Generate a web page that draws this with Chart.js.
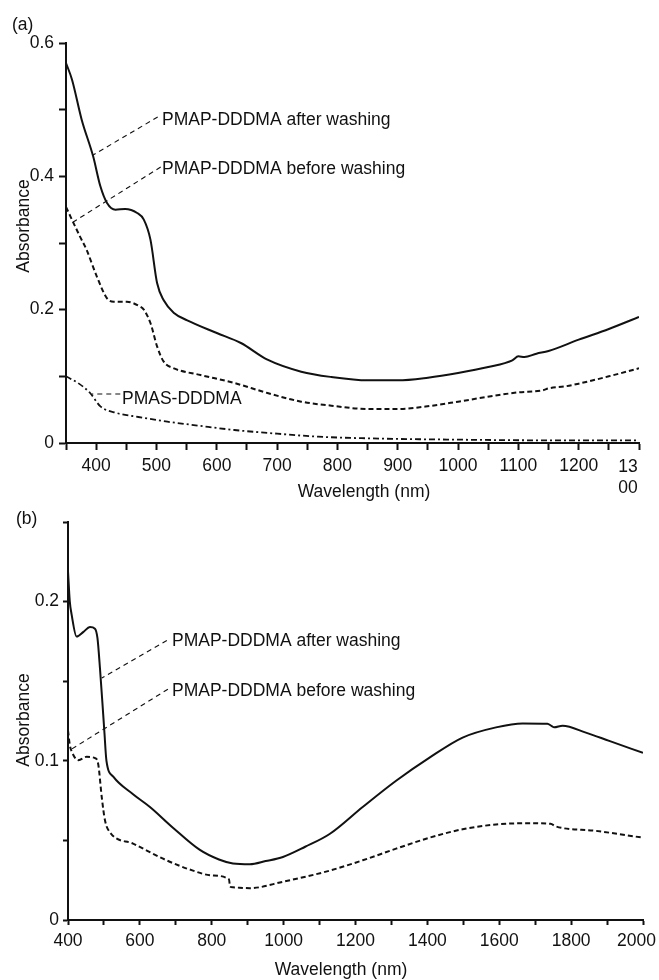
<!DOCTYPE html>
<html lang="en">
<head>
<meta charset="UTF-8">
<title>Absorbance spectra</title>
<style>
  body { margin: 0; background: #fff; }
  .panel { position: absolute; left: 0; }
  #panelA { top: 0; }
  #panelB { top: 500px; }
</style>
</head>
<body>
<div class="panel" id="panelA"><canvas id="chartA" width="659" height="510"></canvas></div>
<div class="panel" id="panelB"><canvas id="chartB" width="659" height="480"></canvas></div>

<script src="https://cdn.jsdelivr.net/npm/chart.js"></script>
<script>
// (a) PMAP-DDDMA after washing
const wlA_after  = [350, 360, 376, 395, 407, 418, 432, 448, 468, 479, 490, 501, 512, 529, 551, 600, 640, 684, 740, 790, 850, 900, 950, 1000, 1050, 1090, 1100, 1110, 1130, 1150, 1200, 1250, 1300];
const absA_after = [0.57, 0.545, 0.485, 0.43, 0.385, 0.36, 0.35, 0.351, 0.345, 0.335, 0.305, 0.24, 0.214, 0.195, 0.184, 0.165, 0.15, 0.125, 0.107, 0.099, 0.094, 0.094, 0.098, 0.105, 0.114, 0.124, 0.13, 0.129, 0.134, 0.138, 0.155, 0.171, 0.189];

// (a) PMAP-DDDMA before washing
const wlA_before  = [350, 373, 384, 401, 418, 429, 451, 470, 479, 490, 501, 512, 529, 573, 629, 684, 740, 790, 850, 900, 957, 1000, 1068, 1100, 1140, 1150, 1178, 1200, 1250, 1300];
const absA_before = [0.354, 0.31, 0.29, 0.25, 0.217, 0.212, 0.212, 0.206, 0.2, 0.18, 0.145, 0.122, 0.112, 0.102, 0.09, 0.075, 0.062, 0.056, 0.051, 0.051, 0.056, 0.062, 0.072, 0.076, 0.079, 0.082, 0.085, 0.089, 0.1, 0.112];

// (a) PMAS-DDDMA
const wlA_pmas  = [350, 370, 390, 407, 434, 470, 518, 570, 629, 700, 768, 850, 1000, 1150, 1300];
const absA_pmas = [0.1, 0.09, 0.075, 0.055, 0.045, 0.039, 0.032, 0.026, 0.0195, 0.014, 0.0095, 0.007, 0.005, 0.004, 0.004];

// (b) PMAP-DDDMA after washing
const wlB_after  = [400, 405, 410, 424, 443, 461, 475, 482, 489, 498, 501, 507, 526, 581, 628, 692, 767, 820, 859, 906, 950, 998, 1060, 1128, 1220, 1313, 1406, 1498, 1591, 1665, 1734, 1745, 1753, 1776, 1841, 1906, 2000];
const absB_after = [0.219, 0.2, 0.192, 0.178, 0.181, 0.184, 0.183, 0.177, 0.158, 0.129, 0.119, 0.1, 0.09, 0.079, 0.071, 0.058, 0.044, 0.038, 0.0355, 0.035, 0.037, 0.0396, 0.046, 0.054, 0.071, 0.0875, 0.102, 0.1146, 0.121, 0.1235, 0.1233, 0.122, 0.121, 0.122, 0.1177, 0.1125, 0.105];

// (b) PMAP-DDDMA before washing
const wlB_before  = [400, 405, 410, 429, 452, 475, 484, 494, 503, 517, 581, 674, 748, 800, 848, 851, 859, 906, 998, 1128, 1220, 1313, 1406, 1498, 1591, 1683, 1743, 1757, 1869, 2000];
const absB_before = [0.119, 0.11, 0.106, 0.1004, 0.1025, 0.1017, 0.098, 0.077, 0.0625, 0.055, 0.048, 0.0375, 0.031, 0.028, 0.0255, 0.021, 0.0205, 0.02, 0.024, 0.031, 0.0375, 0.0448, 0.0517, 0.057, 0.06, 0.0608, 0.0604, 0.0588, 0.056, 0.0517];

// tick labels
const xLabelsA = [400, 500, 600, 700, 800, 900, 1000, 1100, 1200];
const yLabelsA = [0, 0.2, 0.4, 0.6];
const xLabelsB = [400, 600, 800, 1000, 1200, 1400, 1600, 1800];
const yLabelsB = [0, 0.1, 0.2];

const FONT = '"Liberation Sans", Arial, sans-serif';
const INK = '#111';

const pts = (xs, ys) => xs.map((x, i) => ({ x: x, y: ys[i] }));
const near = (list, v) => list.some(t => Math.abs(t - v) < 1e-6);

// panel letters, axis titles, leader lines and curve labels
const notesPlugin = {
  id: 'notes',
  afterDraw(chart, args, o) {
    const ctx = chart.ctx, xs = chart.scales.x, ys = chart.scales.y;
    ctx.save();
    ctx.fillStyle = INK;
    ctx.font = '17.5px ' + FONT;
    ctx.textBaseline = 'middle';

    ctx.textAlign = 'left';
    ctx.fillText(o.panel, o.panelPos[0], o.panelPos[1]);

    ctx.textAlign = 'center';
    ctx.fillText('Wavelength (nm)', o.xTitlePos[0], o.xTitlePos[1]);

    ctx.save();
    ctx.translate(o.yTitlePos[0], o.yTitlePos[1]);
    ctx.rotate(-Math.PI / 2);
    ctx.fillText('Absorbance', 0, 0);
    ctx.restore();

    // last x tick label sits pulled in from the right edge
    const lx = xs.getPixelForValue(o.lastTick.value) + o.lastTick.shift;
    o.lastTick.lines.forEach((t, i) => ctx.fillText(t, lx, o.lastTick.y + i * 21));

    ctx.strokeStyle = INK;
    ctx.lineWidth = 1.1;
    ctx.setLineDash([5, 4]);
    ctx.textAlign = 'left';
    o.items.forEach(n => {
      ctx.beginPath();
      ctx.moveTo(xs.getPixelForValue(n.from[0]), ys.getPixelForValue(n.from[1]));
      ctx.lineTo(xs.getPixelForValue(n.to[0]), ys.getPixelForValue(n.to[1]));
      ctx.stroke();
      ctx.fillText(n.text, n.at[0], n.at[1]);
    });
    ctx.restore();
  }
};

function axis(c) {
  return {
    type: 'linear',
    min: c.min,
    max: c.max,
    afterFit(s) {
      if (c.width) s.width = c.width;
      if (c.height) s.height = c.height;
      s.paddingLeft = 0; s.paddingRight = 0; s.paddingTop = 0; s.paddingBottom = 0;
    },
    border: { display: true, color: INK, width: 2 },
    grid: { display: true, drawOnChartArea: false, drawTicks: true, tickLength: c.tick, tickWidth: 2, tickColor: INK },
    ticks: {
      stepSize: c.step,
      autoSkip: false,
      maxRotation: 0,
      minRotation: 0,
      padding: c.pad,
      color: INK,
      font: { family: FONT, size: 17.5 },
      callback: v => near(c.labels, v) ? String(Math.round(v * 1000) / 1000) : ''
    }
  };
}

function options(c) {
  return {
    responsive: false,
    animation: false,
    layout: { padding: c.padding },
    elements: {
      point: { radius: 0 },
      line: { borderColor: INK, borderWidth: 2, cubicInterpolationMode: 'monotone', fill: false }
    },
    plugins: { legend: { display: false }, tooltip: { enabled: false }, notes: c.notes },
    scales: { x: c.x, y: c.y }
  };
}

new Chart(document.getElementById('chartA'), {
  type: 'line',
  data: {
    datasets: [
      { label: 'PMAP-DDDMA after washing', data: pts(wlA_after, absA_after) },
      { label: 'PMAP-DDDMA before washing', data: pts(wlA_before, absA_before), borderDash: [5, 3] },
      { label: 'PMAS-DDDMA', data: pts(wlA_pmas, absA_pmas), borderDash: [6, 3, 2, 3], borderWidth: 1.8 }
    ]
  },
  options: options({
    padding: { left: 0, right: 20, top: 43, bottom: 0 },
    x: axis({ min: 350, max: 1300, step: 50, labels: xLabelsA, tick: 7, pad: 6, height: 67 }),
    y: axis({ min: 0, max: 0.6, step: 0.1, labels: yLabelsA, tick: 7, pad: 5, width: 66 }),
    notes: {
      panel: '(a)', panelPos: [12, 25],
      xTitlePos: [364, 492],
      yTitlePos: [24, 226],
      lastTick: { value: 1300, shift: -11, y: 467, lines: ['13', '00'] },
      items: [
        { text: 'PMAP-DDDMA after washing', at: [162, 120], from: [502, 0.489], to: [395, 0.432] },
        { text: 'PMAP-DDDMA before washing', at: [162, 169], from: [507, 0.414], to: [362, 0.3315] },
        { text: 'PMAS-DDDMA', at: [122, 399], from: [440, 0.0735], to: [393, 0.0735] }
      ]
    }
  }),
  plugins: [notesPlugin]
});

new Chart(document.getElementById('chartB'), {
  type: 'line',
  data: {
    datasets: [
      { label: 'PMAP-DDDMA after washing', data: pts(wlB_after, absB_after) },
      { label: 'PMAP-DDDMA before washing', data: pts(wlB_before, absB_before), borderDash: [5, 3] }
    ]
  },
  options: options({
    padding: { left: 0, right: 16, top: 22, bottom: 0 },
    x: axis({ min: 400, max: 2000, step: 100, labels: xLabelsB, tick: 5, pad: 5.5, height: 60 }),
    y: axis({ min: 0, max: 0.25, step: 0.05, labels: yLabelsB, tick: 5, pad: 4, width: 68 }),
    notes: {
      panel: '(b)', panelPos: [16, 19],
      xTitlePos: [341, 470],
      yTitlePos: [24, 220],
      lastTick: { value: 2000, shift: -6.5, y: 441, lines: ['2000'] },
      items: [
        { text: 'PMAP-DDDMA after washing', at: [172, 141], from: [675, 0.1756], to: [494, 0.152] },
        { text: 'PMAP-DDDMA before washing', at: [172, 191], from: [678, 0.145], to: [411, 0.1075] }
      ]
    }
  }),
  plugins: [notesPlugin]
});
</script>
</body>
</html>
